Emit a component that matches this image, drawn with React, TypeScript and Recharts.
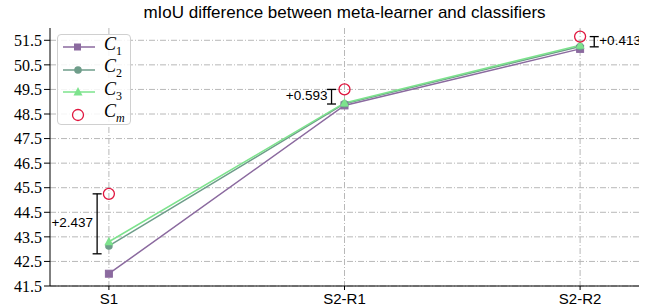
import { ComposedChart, Line, Scatter, XAxis, YAxis, CartesianGrid, ErrorBar } from 'recharts'

const categories = ['S1', 'S2-R1', 'S2-R2']
const c1Values = [42.0, 48.85, 51.15]
const c2Values = [43.13, 48.92, 51.25]
const c3Values = [43.3, 48.95, 51.3]
const cmValues = [45.25, 49.5, 51.65]
const diffLabels = ['+2.437', '+0.593', '+0.413']
const yTicks = [41.5, 42.5, 43.5, 44.5, 45.5, 46.5, 47.5, 48.5, 49.5, 50.5, 51.5]

const C1 = '#8b6a9f'
const C2 = '#6e9d8a'
const C3 = '#7de38d'
const CM = '#e0163f'
const GRID = '#b8b8b8'

// bar sits a little beside each category, label on the outer side
const barShift = [-0.05, -0.055, 0.06]
const labelSide = ['left', 'left', 'right']

const data = categories.map((name, i) => ({
  x: i,
  name,
  c1: c1Values[i],
  c2: c2Values[i],
  c3: c3Values[i],
  cm: cmValues[i],
}))

const barData = categories.map((_, i) => {
  const mean = (c1Values[i] + c2Values[i] + c3Values[i]) / 3
  const half = (cmValues[i] - mean) / 2
  return { x: i + barShift[i], mid: mean + half, err: [half, half], label: diffLabels[i], side: labelSide[i] }
})

const Square = (props: any) => {
  const { cx, cy } = props
  if (cx == null || cy == null) return null
  return <rect x={cx - 3.5} y={cy - 3.5} width={7} height={7} fill={C1} stroke={C1} />
}

const Triangle = (props: any) => {
  const { cx, cy } = props
  if (cx == null || cy == null) return null
  return <polygon points={`${cx},${cy - 5} ${cx - 4.5},${cy + 3.5} ${cx + 4.5},${cy + 3.5}`} fill={C3} />
}

const DiffLabel = (props: any) => {
  const { cx, cy, payload } = props
  if (cx == null || cy == null) return null
  const left = payload.side === 'left'
  return (
    <text
      x={left ? cx - 4 : cx + 5}
      y={cy - 1}
      textAnchor={left ? 'end' : 'start'}
      dominantBaseline="central"
      fontSize={13.5}
      fontFamily="Liberation Sans, Arial, sans-serif"
      fill="#000"
    >
      {payload.label}
    </text>
  )
}

function LegendBox() {
  const rows = [
    { sub: '1', mark: <rect x={12} y={-3.5} width={7} height={7} fill={C1} />, color: C1 },
    { sub: '2', mark: <circle cx={16} cy={0} r={3.8} fill={C2} />, color: C2 },
    { sub: '3', mark: <polygon points="16,-5 11.5,3.5 20.5,3.5" fill={C3} />, color: C3 },
    { sub: 'm', mark: <circle cx={16} cy={0} r={5.5} fill="none" stroke={CM} strokeWidth={1.3} />, color: null },
  ]
  return (
    <div
      style={{
        position: 'absolute',
        left: 57,
        top: 34,
        width: 74,
        height: 91,
        background: 'rgba(255,255,255,0.85)',
        border: '1px solid #d0d0d0',
        borderRadius: 4,
        boxSizing: 'border-box',
      }}
    >
      {rows.map((r, i) => (
        <div key={i} style={{ position: 'absolute', left: 4, top: 2 + i * 22.5, height: 20, display: 'flex', alignItems: 'center' }}>
          <svg width={34} height={20} viewBox="0 -10 34 20">
            {r.color && <line x1={1} y1={0} x2={33} y2={0} stroke={r.color} strokeWidth={1.5} />}
            {r.mark}
          </svg>
          <span style={{ marginLeft: 8, fontFamily: 'Liberation Serif, serif', fontSize: 18, lineHeight: '20px' }}>
            <i>C</i>
            <sub style={{ fontSize: 12, fontStyle: r.sub === 'm' ? 'italic' : 'normal' }}>{r.sub}</sub>
          </span>
        </div>
      ))}
    </div>
  )
}

export default function App() {
  return (
    <div style={{ position: 'absolute', left: 0, top: 0, width: 654, height: 306, background: '#fff' }}>
      <div
        style={{
          position: 'absolute',
          left: 50,
          width: 589,
          top: 3,
          textAlign: 'center',
          fontFamily: 'Liberation Sans, Arial, sans-serif',
          fontSize: 17,
        }}
      >
        mIoU difference between meta-learner and classifiers
      </div>
      <ComposedChart width={654} height={306} data={data} margin={{ top: 28, right: 15, left: 5, bottom: 0 }}>
        <CartesianGrid stroke={GRID} strokeDasharray="6 2 1 2" horizontalValues={yTicks} verticalValues={[0, 1, 2]} />
        <XAxis
          dataKey="x"
          type="number"
          domain={[-0.25, 2.25]}
          ticks={[0, 1, 2]}
          interval={0}
          tickFormatter={(v: number) => categories[v]}
          height={20}
          stroke="#000"
          tickSize={4}
          tick={{ fill: '#000', fontSize: 15, fontFamily: 'Liberation Sans, Arial, sans-serif', dy: 1 }}
          allowDataOverflow
        />
        <XAxis xAxisId="top" orientation="top" dataKey="x" type="number" domain={[-0.25, 2.25]} height={0} tick={false} tickLine={false} stroke="#000" />
        <YAxis
          domain={[41.5, 52]}
          ticks={yTicks}
          interval={0}
          width={45}
          stroke="#000"
          tickSize={6}
          tick={{ fill: '#000', fontSize: 16, fontFamily: 'Liberation Serif, serif' }}
          allowDataOverflow
        />
        <YAxis yAxisId="right" orientation="right" domain={[41.5, 52]} width={0} tick={false} tickLine={false} stroke="#000" />
        <Line dataKey="c1" stroke={C1} strokeWidth={1.5} dot={<Square />} isAnimationActive={false} />
        <Line dataKey="c2" stroke={C2} strokeWidth={1.5} dot={{ r: 3.8, fill: C2, stroke: C2, strokeWidth: 0 }} isAnimationActive={false} />
        <Line dataKey="c3" stroke={C3} strokeWidth={1.5} dot={<Triangle />} isAnimationActive={false} />
        <Line dataKey="cm" stroke="none" dot={{ r: 5.5, fill: 'none', stroke: CM, strokeWidth: 1.3 }} isAnimationActive={false} />
        <Scatter data={barData} dataKey="mid" shape={<DiffLabel />} isAnimationActive={false}>
          <ErrorBar dataKey="err" direction="y" width={4.5} stroke="#000" strokeWidth={1.3} />
        </Scatter>
      </ComposedChart>
      <LegendBox />
    </div>
  )
}
